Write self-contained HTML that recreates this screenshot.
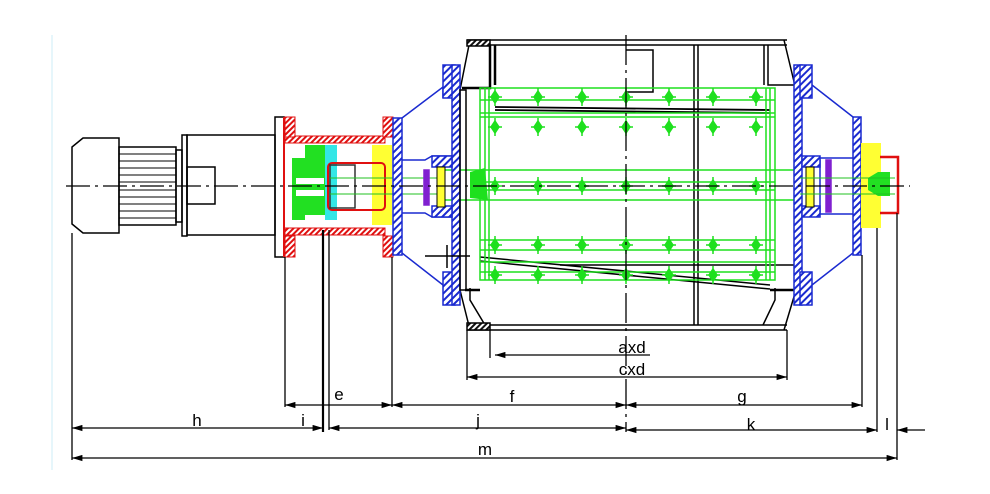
<!DOCTYPE html>
<html><head><meta charset="utf-8"><style>
html,body{margin:0;padding:0;background:#fff;}
svg{display:block;}
text{font-family:"Liberation Sans",sans-serif;font-size:17px;fill:#000;}
</style></head><body>
<svg width="990" height="494" viewBox="0 0 990 494" xmlns="http://www.w3.org/2000/svg">
<defs>
<marker id="a" viewBox="0 0 10 6" refX="10" refY="3" markerWidth="8" markerHeight="5" orient="auto-start-reverse"><path d="M0,0L10,3L0,6z" fill="#000"/></marker>
<pattern id="hb" width="5" height="5" patternUnits="userSpaceOnUse" patternTransform="rotate(45)"><rect width="5" height="5" fill="#fff"/><rect width="2" height="5" fill="#1a2ad0"/></pattern>
<pattern id="hr" width="4" height="4" patternUnits="userSpaceOnUse" patternTransform="rotate(45)"><rect width="4" height="4" fill="#fff"/><rect width="2" height="4" fill="#e01010"/></pattern>
<pattern id="hk" width="4" height="4" patternUnits="userSpaceOnUse" patternTransform="rotate(45)"><rect width="4" height="4" fill="#fff"/><rect width="2" height="4" fill="#111"/></pattern>
</defs>
<line x1="52" y1="35" x2="52" y2="470" stroke="#e6f6fb" stroke-width="2"/>
<g fill="none" stroke="#000" stroke-width="1.5">
<path d="M83,138H119V233H83L72,224V147Z" fill="#fff"/>
<rect x="119" y="147" width="57" height="78"/>
<g stroke-width="1"><line x1="119" y1="154" x2="176" y2="154"/><line x1="119" y1="161" x2="176" y2="161"/><line x1="119" y1="168" x2="176" y2="168"/><line x1="119" y1="175" x2="176" y2="175"/><line x1="119" y1="182" x2="176" y2="182"/><line x1="119" y1="190" x2="176" y2="190"/><line x1="119" y1="197" x2="176" y2="197"/><line x1="119" y1="204" x2="176" y2="204"/><line x1="119" y1="211" x2="176" y2="211"/><line x1="119" y1="218" x2="176" y2="218"/></g>
<rect x="176" y="150" width="6" height="72"/>
<rect x="182" y="135" width="5" height="101"/>
<rect x="187" y="135" width="88" height="100"/>
<rect x="187" y="167" width="28" height="37"/>
<rect x="275" y="117" width="9" height="140"/>
<line x1="467" y1="40" x2="787" y2="40"/><line x1="467" y1="45" x2="787" y2="45"/>
<line x1="467" y1="325" x2="787" y2="325"/><line x1="467" y1="330" x2="787" y2="330"/>
<path d="M470,40L460,90M784,40L796,90M470,330L460,290M784,330L796,290"/>
<path d="M490,45V88H462M495,45V85" stroke-width="2.5"/>
<path d="M768,45V85H796M764,45V85"/>
<path d="M626,50H653V92H626" />
<line x1="694" y1="45" x2="694" y2="325"/><line x1="698" y1="45" x2="698" y2="325"/>
<path d="M470,288V300L485,325M775,288V300L763,325"/>
<path d="M465,290H480M770,290H796" stroke-width="2.5"/>
<rect x="467" y="40" width="23" height="6" fill="url(#hk)"/><rect x="467" y="323" width="23" height="7" fill="url(#hk)"/>
<path d="M495,107L770,110M495,110L770,113" stroke-width="1.8"/>
<path d="M480,257L770,285M480,261L770,289" stroke-width="1.5"/>
<line x1="560" y1="265" x2="795" y2="265"/>
</g>
<g fill="none" stroke="#1ee01e" stroke-width="1.5">
<rect x="480" y="88" width="295" height="192"/>
<line x1="485" y1="88" x2="485" y2="280"/><line x1="489" y1="88" x2="489" y2="280"/>
<line x1="766" y1="88" x2="766" y2="280"/><line x1="770" y1="88" x2="770" y2="280"/>
<line x1="480" y1="100" x2="775" y2="100"/><line x1="480" y1="113" x2="775" y2="113"/><line x1="480" y1="117" x2="775" y2="117"/>
<line x1="440" y1="170" x2="800" y2="170"/><line x1="480" y1="182" x2="775" y2="182"/><line x1="480" y1="190" x2="775" y2="190"/><line x1="440" y1="200" x2="800" y2="200"/>
<line x1="480" y1="240" x2="775" y2="240"/><line x1="480" y1="250" x2="775" y2="250"/><line x1="480" y1="262" x2="775" y2="262"/><line x1="480" y1="272" x2="775" y2="272"/>
</g>
<g fill="#1ee01e">
<path d="M470,172L485,168L488,200L470,198Z"/>
<g id="dots" stroke="#1ee01e" stroke-width="1.5"><g id="dt"><path d="M495,91L499,97L495,103L491,97Z"/><line x1="495" y1="88" x2="495" y2="106"/><line x1="488" y1="97" x2="502" y2="97"/></g>
<use href="#dt" x="43"/><use href="#dt" x="87"/><use href="#dt" x="131"/><use href="#dt" x="174"/><use href="#dt" x="218"/><use href="#dt" x="261"/></g>
<use href="#dots" y="30"/><use href="#dots" y="89"/><use href="#dots" y="148"/><use href="#dots" y="178"/>
</g>
<rect x="285" y="136" width="100" height="7" fill="url(#hr)" stroke="#e01010"/>
<rect x="285" y="228" width="100" height="7" fill="url(#hr)" stroke="#e01010"/>
<rect x="285" y="117" width="10" height="20" fill="url(#hr)" stroke="#e01010"/>
<rect x="285" y="236" width="10" height="21" fill="url(#hr)" stroke="#e01010"/>
<rect x="383" y="117" width="10" height="20" fill="url(#hr)" stroke="#e01010"/>
<rect x="383" y="236" width="10" height="21" fill="url(#hr)" stroke="#e01010"/>
<line x1="284" y1="117" x2="284" y2="257" stroke="#e01010" stroke-width="2"/>
<rect x="372" y="145" width="20" height="80" fill="#ffff33"/>
<path d="M305,145H325V160H325V215H305V220H292V158H305Z" fill="#22e022"/>
<rect x="325" y="145" width="12" height="75" fill="#33e6e6"/>
<rect x="328" y="163" width="57" height="47" rx="4" fill="none" stroke="#e01010" stroke-width="2"/>
<rect x="330" y="165" width="25" height="43" fill="none" stroke="#333" stroke-width="1.5"/>
<rect x="296" y="178" width="28" height="6" fill="#fff"/><rect x="296" y="190" width="28" height="6" fill="#fff"/>
<g stroke="#22c022" fill="none" stroke-width="1"><line x1="330" y1="178" x2="440" y2="178"/><line x1="330" y1="194" x2="440" y2="194"/></g>
<g stroke="#1a2ad0" stroke-width="1.5">
<rect x="393" y="118" width="9" height="137" fill="url(#hb)"/>
<path d="M402,118L443,87V98M402,253L443,285" fill="none"/>
<rect x="443" y="65" width="12" height="33" fill="url(#hb)"/>
<rect x="443" y="272" width="12" height="33" fill="url(#hb)"/>
<rect x="452" y="65" width="8" height="240" fill="url(#hb)"/>
<path d="M402,160H425L432,156H452M402,213H425L432,217H452" fill="none"/>
<rect x="432" y="156" width="20" height="11" fill="url(#hb)"/><rect x="432" y="206" width="20" height="11" fill="url(#hb)"/>
<rect x="424" y="170" width="5" height="35" fill="#8020d0" stroke="#8020d0"/>
</g>
<rect x="437" y="167" width="8" height="40" fill="#ffff33" stroke="#000"/>
<rect x="460" y="90" width="6" height="200" fill="none" stroke="#000" stroke-width="1.5"/>
<path d="M425,256H470M447,245V268" stroke="#000" stroke-width="1.5"/>
<g stroke="#1a2ad0" stroke-width="1.5">
<rect x="794" y="65" width="8" height="240" fill="url(#hb)"/>
<rect x="800" y="65" width="12" height="33" fill="url(#hb)"/>
<rect x="800" y="272" width="12" height="33" fill="url(#hb)"/>
<path d="M812,85L853,117M812,285L853,253" fill="none"/>
<rect x="853" y="117" width="8" height="138" fill="url(#hb)"/>
<path d="M802,160H820V212H802M820,158H853M820,214H853" fill="none"/>
<rect x="802" y="156" width="18" height="11" fill="url(#hb)"/><rect x="802" y="206" width="18" height="11" fill="url(#hb)"/>
<rect x="826" y="160" width="5" height="52" fill="#8020d0" stroke="#8020d0"/>
</g>
<rect x="806" y="167" width="8" height="40" fill="#ffff33" stroke="#000"/>
<rect x="861" y="143" width="20" height="85" fill="#ffff33"/>
<path d="M880,157H898V213H880" fill="none" stroke="#e01010" stroke-width="2.5"/>
<path d="M868,178L878,172H890V196H878L868,190Z" fill="#22e022"/>
<line x1="800" y1="178" x2="895" y2="178" stroke="#22c022"/><line x1="800" y1="194" x2="895" y2="194" stroke="#22c022"/>
<line x1="66" y1="186" x2="910" y2="186" stroke="#000" stroke-width="1.3" stroke-dasharray="24,5,3,5"/>
<line x1="626" y1="35" x2="626" y2="432" stroke="#000" stroke-width="1.3" stroke-dasharray="30,5,3,5"/>
<g stroke="#000" stroke-width="1.3">
<line x1="72" y1="233" x2="72" y2="460"/>
<line x1="285" y1="257" x2="285" y2="407"/>
<line x1="323" y1="230" x2="323" y2="432" stroke-width="2.2"/>
<line x1="329" y1="230" x2="329" y2="430"/>
<line x1="392" y1="257" x2="392" y2="407"/>
<line x1="467" y1="330" x2="467" y2="380"/>
<line x1="787" y1="330" x2="787" y2="380"/>
<line x1="490" y1="330" x2="490" y2="358"/>
<line x1="862" y1="255" x2="862" y2="407"/>
<line x1="877" y1="228" x2="877" y2="432"/>
<line x1="897" y1="213" x2="897" y2="460"/>
</g>
<g stroke="#000" stroke-width="1.3" marker-start="url(#a)" marker-end="url(#a)">
<line x1="467" y1="377" x2="787" y2="377"/>
<line x1="285" y1="405" x2="392" y2="405"/>
<line x1="392" y1="405" x2="626" y2="405"/>
<line x1="626" y1="405" x2="862" y2="405"/>
<line x1="72" y1="428" x2="323" y2="428"/>
<line x1="329" y1="428" x2="626" y2="428"/>
<line x1="626" y1="430" x2="877" y2="430"/>
<line x1="72" y1="458" x2="897" y2="458"/>
</g>
<line x1="495" y1="355" x2="650" y2="355" stroke="#000" stroke-width="1.3" marker-start="url(#a)"/>
<line x1="897" y1="430" x2="925" y2="430" stroke="#000" stroke-width="1.3" marker-start="url(#a)"/>
<g text-anchor="middle">
<text x="632" y="353">axd</text>
<text x="632" y="375">cxd</text>
<text x="339" y="400">e</text>
<text x="512" y="402">f</text>
<text x="742" y="402">g</text>
<text x="197" y="426">h</text>
<text x="303" y="426">i</text>
<text x="478" y="426">j</text>
<text x="751" y="430">k</text>
<text x="887" y="430">l</text>
<text x="485" y="455">m</text>
</g>
</svg>
</body></html>
